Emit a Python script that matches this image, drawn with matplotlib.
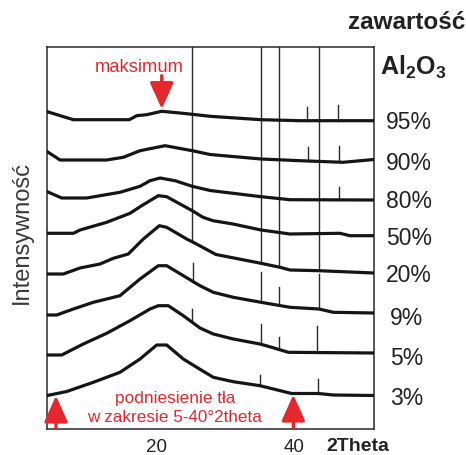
import matplotlib
matplotlib.use("Agg")
import matplotlib.pyplot as plt
import matplotlib.transforms as mtransforms
import numpy as np

plt.rcParams['font.family'] = ['Liberation Sans', 'DejaVu Sans']
plt.rcParams['mathtext.fontset'] = 'custom'
plt.rcParams['mathtext.rm'] = 'Liberation Sans'
plt.rcParams['mathtext.bf'] = 'Liberation Sans:bold'

# ---- data (2theta in degrees, intensity in arbitrary units, stacked) ----
two_theta_95 = [4.12, 7.90, 16.02, 17.10, 18.55, 20.73, 23.38, 25.16, 27.74, 35.14, 40.80, 51.54]
int_95 = [316.8, 308.8, 308.8, 312.8, 313.8, 317.2, 315.5, 314.2, 312.2, 308.8, 307.8, 307.8]

two_theta_90 = [4.12, 5.97, 12.74, 15.15, 17.58, 21.21, 25.16, 27.74, 35.14, 40.80, 47.04, 51.54]
int_90 = [276.8, 268.5, 268.5, 271.2, 277.8, 282.8, 277.8, 274.0, 269.5, 267.8, 266.2, 269.0]

two_theta_80 = [4.12, 6.21, 9.84, 14.67, 17.58, 19.03, 20.48, 22.66, 25.16, 27.74, 35.14, 39.35, 51.54]
int_80 = [236.8, 230.5, 230.5, 236.2, 242.2, 247.8, 250.5, 247.8, 242.2, 238.0, 231.8, 228.8, 228.5]

two_theta_50 = [4.12, 7.90, 8.87, 12.74, 16.12, 17.82, 20.23, 21.45, 25.16, 26.72, 28.17, 31.07,
                35.14, 39.35, 46.60, 48.06, 51.54]
int_50 = [195.2, 195.2, 198.5, 206.2, 215.2, 222.8, 232.8, 231.8, 217.8, 211.2, 207.8, 204.5,
          198.5, 194.5, 195.2, 192.8, 192.8]

two_theta_20 = [4.12, 6.44, 8.87, 11.77, 13.70, 15.88, 18.06, 20.38, 21.45, 24.35, 25.31, 28.60,
                35.14, 37.90, 39.35, 43.55, 51.54]
int_20 = [154.5, 154.5, 160.5, 164.5, 170.2, 174.5, 189.5, 202.8, 201.2, 189.5, 186.2, 174.0,
          165.2, 161.2, 158.5, 157.8, 155.5]

two_theta_9 = [4.12, 5.49, 7.90, 10.80, 14.67, 17.58, 20.23, 21.45, 25.31, 26.28, 28.21, 31.12,
               35.14, 39.35, 43.55, 45.63, 51.54]
int_9 = [113.5, 113.5, 119.5, 126.2, 132.8, 149.5, 162.8, 162.8, 146.8, 142.8, 136.2, 131.2,
         126.2, 121.2, 119.5, 116.2, 115.5]

two_theta_5 = [4.12, 6.21, 9.35, 12.74, 16.12, 19.03, 20.23, 21.68, 23.86, 26.28, 28.21, 31.12,
               34.99, 36.69, 39.10, 51.54]
int_5 = [73.5, 73.5, 84.5, 95.2, 107.8, 119.5, 122.8, 122.8, 112.8, 100.5, 94.5, 89.5,
         84.5, 81.2, 76.2, 75.5]

two_theta_3 = [4.12, 6.94, 10.80, 14.67, 17.58, 20.00, 21.45, 23.86, 25.81, 28.21, 31.12, 34.99,
               39.59, 43.45, 45.63, 51.54]
int_3 = [33.0, 37.0, 46.2, 56.2, 69.5, 83.5, 83.5, 69.5, 61.2, 51.2, 46.8, 42.8,
         35.0, 35.0, 33.5, 33.0]

# short reflection marks (position, top intensity)
peaks_95 = [41.77, 46.27]
peak_tops_95 = [321.2, 323.5]
peaks_90 = [41.92, 46.46]
peak_tops_90 = [281.8, 282.2]
peaks_80 = [46.46]
peak_tops_80 = [241.2]
peaks_9 = [25.31, 35.14, 37.75, 43.55]
peak_tops_9 = [165.5, 156.8, 141.2, 154.5]
peaks_5 = [25.10, 35.14, 37.75, 43.30]
peak_tops_5 = [119.5, 104.5, 91.2, 102.8]
peaks_3 = [34.99, 43.45]
peak_tops_3 = [53.5, 49.5]

# long reference lines (from top down to the 20% pattern)
ref_lines = [25.16, 35.14, 37.75, 43.55]

pct_labels = ['95%', '90%', '80%', '50%', '20%', '9%', '5%', '3%']
pct_label_y = [308.7, 267.8, 229.2, 192.5, 155.8, 112.5, 72.5, 32.5]
pct_label_x = [1.0367, 1.0367, 1.0367, 1.0367, 1.0367, 1.049, 1.049, 1.049]

xtick_vals = [20, 40]
xtick_labels = ['20', '40']

# ---- figure ----
W, H = 466, 456
fig = plt.figure(figsize=(W / 100, H / 100), dpi=100)
L, R, T, B = 47.3, 374.0, 48.3, 429.5
ax = fig.add_axes([L / W, 1 - B / H, (R - L) / W, (B - T) / H])
ax.set_xlim(4.12, 51.54)
ax.set_ylim(0, B - T)

RED = '#e4282d'
LINE = '#151515'
THIN = '#2a2a2a'

curves = [
    (two_theta_95, int_95), (two_theta_90, int_90), (two_theta_80, int_80),
    (two_theta_50, int_50), (two_theta_20, int_20), (two_theta_9, int_9),
    (two_theta_5, int_5), (two_theta_3, int_3),
]
for xs, ys in curves:
    ax.plot(xs, ys, color=LINE, lw=2.3, solid_joinstyle='round', zorder=3)

# reference lines
ytop = B - T
for xp in ref_lines:
    ybot = np.interp(xp, two_theta_20, int_20)
    ax.plot([xp, xp], [ybot, ytop], color=THIN, lw=1.0, zorder=2)

# short marks
marks = [
    (peaks_95, peak_tops_95, two_theta_95, int_95),
    (peaks_90, peak_tops_90, two_theta_90, int_90),
    (peaks_80, peak_tops_80, two_theta_80, int_80),
    (peaks_9, peak_tops_9, two_theta_9, int_9),
    (peaks_5, peak_tops_5, two_theta_5, int_5),
    (peaks_3, peak_tops_3, two_theta_3, int_3),
]
for pos, tops, xs, ys in marks:
    for p, t in zip(pos, tops):
        yb = np.interp(p, xs, ys)
        ax.plot([p, p], [yb, t], color=THIN, lw=1.0, zorder=2)

# axes styling
for s in ax.spines.values():
    s.set_color(THIN)
    s.set_linewidth(1.1)
ax.set_yticks([])
ax.set_xticks(xtick_vals)
ax.set_xticklabels(xtick_labels, fontsize=13.5, color='#222222')
ax.tick_params(axis='x', length=0, pad=6.5)

# percentage labels
blend = mtransforms.blended_transform_factory(ax.transAxes, ax.transData)
lab_tr = mtransforms.offset_copy(blend, fig=fig, y=-5.9, units='points')
for lab, lx, ly in zip(pct_labels, pct_label_x, pct_label_y):
    ax.text(lx, ly, lab, transform=lab_tr, fontsize=16.5, color='#222222',
            ha='left', va='baseline', clip_on=False)

# titles / axis labels
fig.text(348.3 / W, 1 - 29.3 / H, 'zawartość', fontsize=17.5, fontweight='bold',
         color='#222222', ha='left', va='baseline')
fig.text(380.5 / W, 1 - 74.5 / H, r'$\mathbf{Al_2O_3}$', fontsize=18,
         color='#222222', ha='left', va='baseline')
fig.text(326.7 / W, 1 - 451.5 / H, '2Theta', fontsize=14, fontweight='bold',
         color='#222222', ha='left', va='baseline')
fig.text(28.3 / W, 1 - 232.4 / H, 'Intensywność', fontsize=17, rotation=90,
         rotation_mode='anchor', color='#3a3a3a', ha='center', va='baseline')

# red annotations
ax.text(17.5, 357.8, 'maksimum', color=RED, fontsize=13.2, ha='center', va='baseline')
arrow_kw = dict(arrowstyle='-|>,head_length=0.8,head_width=0.36', color=RED, lw=2.4,
                shrinkA=0, shrinkB=0, mutation_scale=20)
ax.annotate('', xy=(20.73, 319.5), xytext=(20.73, 352.8), arrowprops=arrow_kw)
ax.annotate('', xy=(5.38, 32.8), xytext=(5.38, 0), arrowprops=arrow_kw)
ax.annotate('', xy=(39.83, 33.8), xytext=(39.83, 0), arrowprops=arrow_kw)
ax.text(22.66, 26.8, 'podniesienie tła', color=RED, fontsize=12.4, ha='center', va='baseline')
ax.text(22.62, 7.8, 'w zakresie 5-40°2theta', color=RED, fontsize=12.3, ha='center', va='baseline')

fig.savefig('out.png', dpi=100)
